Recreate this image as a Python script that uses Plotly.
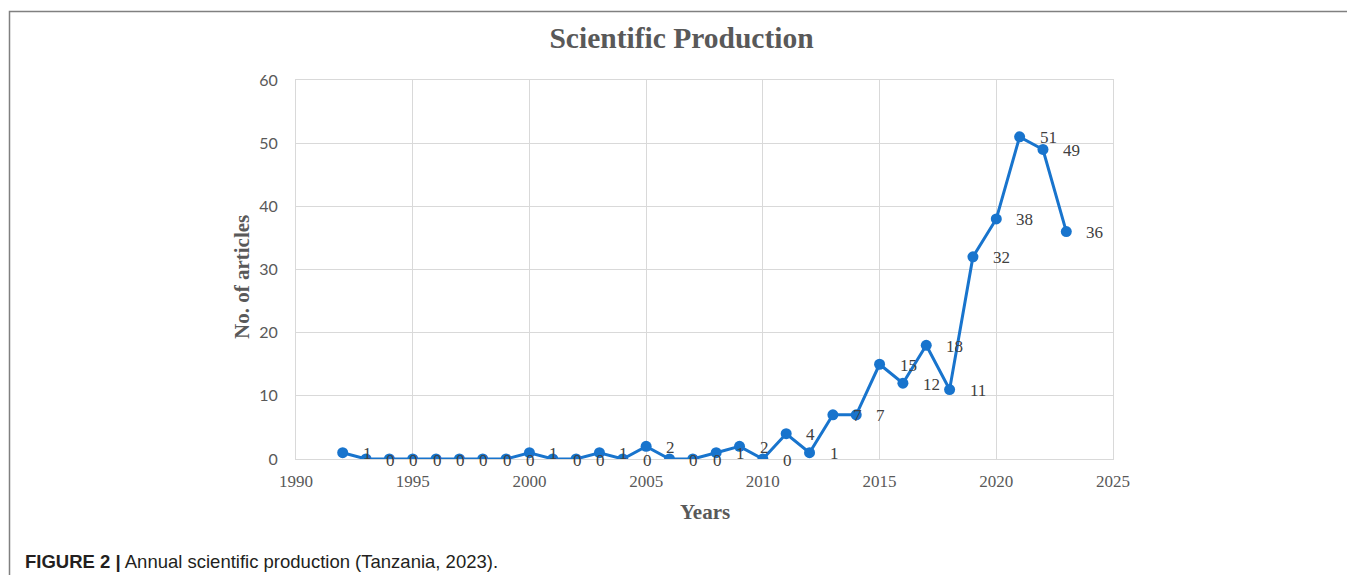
import plotly.graph_objects as go

years = list(range(1992, 2024))
articles = [1, 0, 0, 0, 0, 0, 0, 0, 1, 0, 0, 1, 0, 2, 0, 0,
            1, 2, 0, 4, 1, 7, 7, 15, 12, 18, 11, 32, 38, 51, 49, 36]
x_ticks = [1990, 1995, 2000, 2005, 2010, 2015, 2020, 2025]
y_ticks = [0, 10, 20, 30, 40, 50, 60]

OFF = 8  # page body margin
W, H = 1355 - OFF, 575 - OFF
L, R, T, B = 296 - OFF, 1113 - OFF, 80 - OFF, 459 - OFF  # plot area in pixels


def px(x):
    return (x - OFF - L) / (R - L)


def py(y):
    return (B - (y - OFF)) / (B - T)


LINE = "#1874CD"
GRID = "#d9d9d9"
TXT = "#595959"

fig = go.Figure()
fig.add_trace(go.Scatter(
    x=years, y=articles, mode="lines+markers",
    line=dict(color=LINE, width=3),
    marker=dict(color=LINE, size=11),
    showlegend=False, hoverinfo="x+y",
))

annotations = []
for yr, v in zip(years, articles):
    annotations.append(dict(
        x=yr, y=v, xref="x", yref="y", text=str(v), showarrow=False,
        xanchor="left", yanchor="middle", xshift=18, yshift=-1,
        font=dict(family="Liberation Serif", size=17, color="#404040"),
    ))

annotations.append(dict(
    x=px(242), y=py(277), xref="paper", yref="paper",
    text="<b>No. of articles</b>", textangle=-90, showarrow=False,
    xanchor="center", yanchor="middle",
    font=dict(family="Liberation Serif", size=21, color=TXT),
))
annotations.append(dict(
    x=px(705), y=py(512), xref="paper", yref="paper",
    text="<b>Years</b>", showarrow=False,
    xanchor="center", yanchor="middle",
    font=dict(family="Liberation Serif", size=21, color=TXT),
))
annotations.append(dict(
    x=px(23), y=py(561), xref="paper", yref="paper",
    text="<b>FIGURE 2 |</b> Annual scientific production (Tanzania, 2023).",
    showarrow=False, xanchor="left", yanchor="middle",
    font=dict(family="Liberation Sans", size=18.5, color="#231f20"),
))

shapes = [dict(
    type="rect", xref="paper", yref="paper",
    x0=px(9.5), x1=px(1354), y0=py(600), y1=py(11.5),
    line=dict(color="#808080", width=1.5), fillcolor="rgba(0,0,0,0)",
    layer="below",
)]

fig.update_layout(
    width=W, height=H,
    margin=dict(l=L, r=W - R, t=T, b=H - B, pad=0),
    paper_bgcolor="white", plot_bgcolor="white",
    title=dict(
        text="<b>Scientific Production</b>", x=0.5, xanchor="center",
        y=1 - (38 - OFF) / H, yanchor="middle",
        font=dict(family="Liberation Serif", size=29.5, color=TXT),
    ),
    xaxis=dict(
        range=[1990, 2025], tickvals=x_ticks, ticks="",
        showgrid=True, gridcolor=GRID, gridwidth=1,
        showline=True, linecolor=GRID, mirror=True, zeroline=False,
        tickfont=dict(family="Liberation Serif", size=17, color=TXT),
        ticklabelstandoff=7,
    ),
    yaxis=dict(
        range=[0, 60], tickvals=y_ticks, ticks="",
        showgrid=True, gridcolor=GRID, gridwidth=1,
        showline=True, linecolor=GRID, mirror=True, zeroline=False,
        tickfont=dict(family="Lato", size=16, color=TXT),
        ticklabelstandoff=14,
    ),
    annotations=annotations,
    shapes=shapes,
)

fig.write_html("out.html")
